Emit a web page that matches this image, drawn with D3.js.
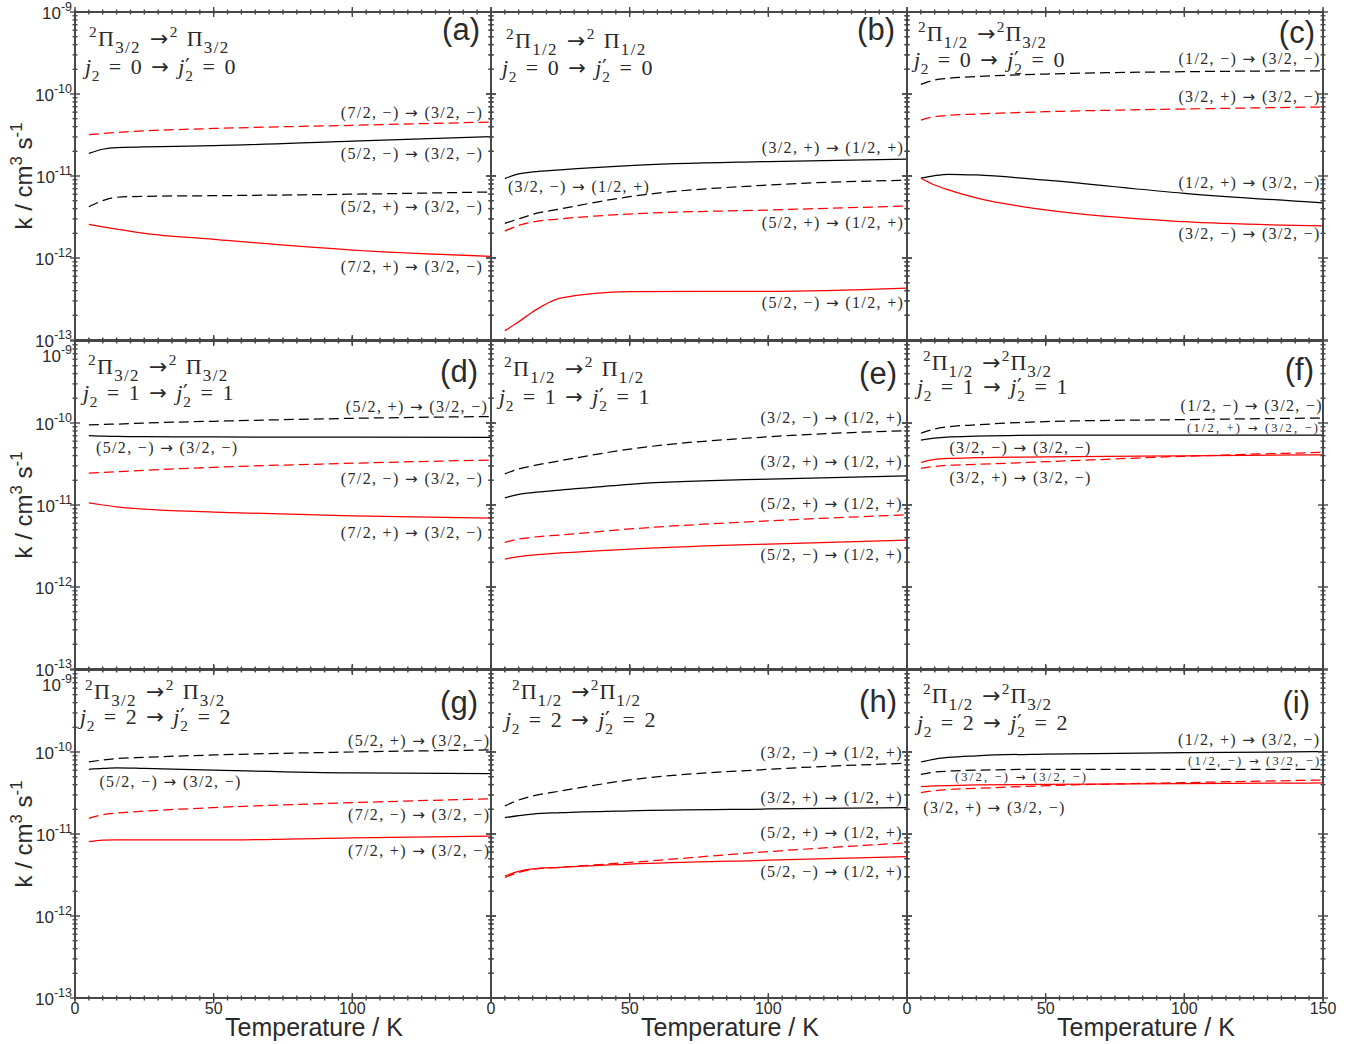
<!DOCTYPE html>
<html>
<head>
<meta charset="utf-8">
<script src="https://cdnjs.cloudflare.com/ajax/libs/d3/7.8.5/d3.min.js"></script>
<style>
  body { margin: 0; background: #fff; }
</style>
</head>
<body>
<div id="chart"></div>
<script>
const temperatures = [5, 10, 15, 25, 50, 100, 150]

const panelLetters = ['a', 'b', 'c', 'd', 'e', 'f', 'g', 'h', 'i']
const panelFrom = ['3/2', '1/2', '1/2', '3/2', '1/2', '1/2', '3/2', '1/2', '1/2']
const panelTo = ['3/2', '1/2', '3/2', '3/2', '1/2', '3/2', '3/2', '1/2', '3/2']
const panelJ = [0, 0, 0, 1, 1, 1, 2, 2, 2]

// rate coefficients, cm^3 s^-1, four transitions per panel
const ratesA = [
  [3.19e-11, 3.3e-11, 3.4e-11, 3.55e-11, 3.8e-11, 4.15e-11, 4.56e-11],
  [1.89e-11, 2.12e-11, 2.22e-11, 2.26e-11, 2.34e-11, 2.67e-11, 3.02e-11],
  [4.22e-12, 5.0e-12, 5.5e-12, 5.65e-12, 5.75e-12, 6.0e-12, 6.38e-12],
  [2.57e-12, 2.4e-12, 2.25e-12, 2.0e-12, 1.69e-12, 1.25e-12, 1.05e-12]
]
const ratesB = [
  [9.3e-12, 1.06e-11, 1.12e-11, 1.19e-11, 1.34e-11, 1.5e-11, 1.61e-11],
  [2.65e-12, 3.0e-12, 3.4e-12, 3.97e-12, 5.6e-12, 7.76e-12, 8.9e-12],
  [2.13e-12, 2.5e-12, 2.75e-12, 3.0e-12, 3.44e-12, 3.85e-12, 4.3e-12],
  [1.3e-13, 1.67e-13, 2.2e-13, 3.25e-13, 3.9e-13, 3.92e-13, 4.3e-13]
]
const ratesC = [
  [1.31e-10, 1.48e-10, 1.55e-10, 1.63e-10, 1.75e-10, 1.87e-10, 1.92e-10],
  [4.8e-11, 5.3e-11, 5.5e-11, 5.7e-11, 6.08e-11, 6.56e-11, 6.94e-11],
  [9.4e-12, 1.01e-11, 1.05e-11, 1.03e-11, 8.9e-12, 6.15e-12, 4.7e-12],
  [9.4e-12, 7.76e-12, 6.76e-12, 5.4e-12, 3.85e-12, 2.77e-12, 2.46e-12]
]
const ratesD = [
  [9.5e-11, 9.6e-11, 9.7e-11, 1.0e-10, 1.05e-10, 1.14e-10, 1.2e-10],
  [7.0e-11, 6.9e-11, 6.87e-11, 6.8e-11, 6.76e-11, 6.72e-11, 6.7e-11],
  [2.45e-11, 2.5e-11, 2.55e-11, 2.65e-11, 2.88e-11, 3.23e-11, 3.54e-11],
  [1.06e-11, 1.0e-11, 9.5e-12, 8.9e-12, 8.2e-12, 7.35e-12, 6.9e-12]
]
const ratesE = [
  [2.4e-11, 2.75e-11, 3.0e-11, 3.47e-11, 4.8e-11, 6.8e-11, 8.05e-11],
  [1.22e-11, 1.35e-11, 1.42e-11, 1.52e-11, 1.79e-11, 2.07e-11, 2.26e-11],
  [3.5e-12, 3.85e-12, 4.05e-12, 4.3e-12, 5.1e-12, 6.4e-12, 7.6e-12],
  [2.19e-12, 2.35e-12, 2.45e-12, 2.6e-12, 2.9e-12, 3.34e-12, 3.74e-12]
]
const ratesF = [
  [7.5e-11, 8.45e-11, 9.0e-11, 9.5e-11, 1.04e-10, 1.1e-10, 1.15e-10],
  [6.2e-11, 6.56e-11, 6.75e-11, 6.9e-11, 7.1e-11, 7.1e-11, 7.1e-11],
  [3.3e-11, 3.6e-11, 3.7e-11, 3.78e-11, 3.86e-11, 3.98e-11, 4.1e-11],
  [2.8e-11, 2.95e-11, 3.05e-11, 3.13e-11, 3.37e-11, 3.93e-11, 4.39e-11]
]
const ratesG = [
  [7.6e-11, 7.98e-11, 8.3e-11, 8.6e-11, 9.2e-11, 1.0e-10, 1.06e-10],
  [6.15e-11, 6.3e-11, 6.4e-11, 6.3e-11, 6.0e-11, 5.55e-11, 5.44e-11],
  [1.55e-11, 1.72e-11, 1.8e-11, 1.9e-11, 2.1e-11, 2.41e-11, 2.69e-11],
  [8.05e-12, 8.4e-12, 8.45e-12, 8.45e-12, 8.45e-12, 9.0e-12, 9.4e-12]
]
const ratesH = [
  [2.2e-11, 2.6e-11, 2.9e-11, 3.34e-11, 4.56e-11, 6.15e-11, 7.3e-11],
  [1.58e-11, 1.67e-11, 1.75e-11, 1.82e-11, 1.92e-11, 2.02e-11, 2.1e-11],
  [2.95e-12, 3.4e-12, 3.7e-12, 3.93e-12, 4.5e-12, 6.1e-12, 7.8e-12],
  [3.07e-12, 3.5e-12, 3.75e-12, 3.93e-12, 4.3e-12, 4.8e-12, 5.3e-12]
]
const ratesI = [
  [7.55e-11, 8.2e-11, 8.6e-11, 9.0e-11, 9.45e-11, 9.8e-11, 1.01e-10],
  [5.35e-11, 5.7e-11, 5.85e-11, 6.0e-11, 6.15e-11, 6.15e-11, 6.15e-11],
  [3.78e-11, 3.85e-11, 3.9e-11, 3.96e-11, 4.04e-11, 4.11e-11, 4.19e-11],
  [3.19e-11, 3.38e-11, 3.5e-11, 3.6e-11, 3.88e-11, 4.23e-11, 4.56e-11]
]
const allRates = [ratesA, ratesB, ratesC, ratesD, ratesE, ratesF, ratesG, ratesH, ratesI]

// transition names, same order as the rates
const transitions = [
  ['(7/2, −) → (3/2, −)', '(5/2, −) → (3/2, −)', '(5/2, +) → (3/2, −)', '(7/2, +) → (3/2, −)'],
  ['(3/2, +) → (1/2, +)', '(3/2, −) → (1/2, +)', '(5/2, +) → (1/2, +)', '(5/2, −) → (1/2, +)'],
  ['(1/2, −) → (3/2, −)', '(3/2, +) → (3/2, −)', '(1/2, +) → (3/2, −)', '(3/2, −) → (3/2, −)'],
  ['(5/2, +) → (3/2, −)', '(5/2, −) → (3/2, −)', '(7/2, −) → (3/2, −)', '(7/2, +) → (3/2, −)'],
  ['(3/2, −) → (1/2, +)', '(3/2, +) → (1/2, +)', '(5/2, +) → (1/2, +)', '(5/2, −) → (1/2, +)'],
  ['(1/2, −) → (3/2, −)', '(1/2, +) → (3/2, −)', '(3/2, −) → (3/2, −)', '(3/2, +) → (3/2, −)'],
  ['(5/2, +) → (3/2, −)', '(5/2, −) → (3/2, −)', '(7/2, −) → (3/2, −)', '(7/2, +) → (3/2, −)'],
  ['(3/2, −) → (1/2, +)', '(3/2, +) → (1/2, +)', '(5/2, +) → (1/2, +)', '(5/2, −) → (1/2, +)'],
  ['(1/2, +) → (3/2, −)', '(1/2, −) → (3/2, −)', '(3/2, −) → (3/2, −)', '(3/2, +) → (3/2, −)']
]

// line style of each series: k = black, r = red, s = solid, d = dashed
const seriesKinds = [
  ['rd', 'ks', 'kd', 'rs'], ['ks', 'kd', 'rd', 'rs'], ['kd', 'rd', 'ks', 'rs'],
  ['kd', 'ks', 'rd', 'rs'], ['kd', 'ks', 'rd', 'rs'], ['kd', 'ks', 'rs', 'rd'],
  ['kd', 'ks', 'rd', 'rs'], ['kd', 'ks', 'rd', 'rs'], ['ks', 'kd', 'rs', 'rd']
]

// where each curve label sits: [T, k, anchor, small]
const labelSpots = [
  [[146.7, 5.06e-11, 'end'], [146.7, 1.6e-11, 'end'], [146.7, 3.64e-12, 'end'], [146.7, 6.76e-13, 'end']],
  [[148.5, 1.89e-11, 'end'], [6.1, 6.32e-12, 'start'], [148.5, 2.34e-12, 'end'], [148.5, 2.44e-13, 'end']],
  [[148.7, 2.32e-10, 'end'], [148.7, 8.05e-11, 'end'], [148.7, 7.08e-12, 'end'], [148.7, 1.69e-12, 'end']],
  [[148.5, 1.37e-10, 'end'], [7.6, 4.31e-11, 'start'], [146.7, 1.8e-11, 'end'], [146.7, 3.93e-12, 'end']],
  [[148, 9.9e-11, 'end'], [148, 2.93e-11, 'end'], [148, 8.93e-12, 'end'], [148, 2.13e-12, 'end']],
  [[149.5, 1.41e-10, 'end'], [148.2, 7.7e-11, 'end', true], [15.3, 4.31e-11, 'start'], [15.3, 1.85e-11, 'start']],
  [[149.3, 1.18e-10, 'end'], [8.8, 3.71e-11, 'start'], [149.3, 1.48e-11, 'end'], [149.3, 5.4e-12, 'end']],
  [[148, 8.53e-11, 'end'], [148, 2.41e-11, 'end'], [148, 9.0e-12, 'end'], [148, 3.02e-12, 'end']],
  [[148.6, 1.22e-10, 'end'], [148.6, 6.94e-11, 'end', true], [17.3, 4.47e-11, 'start', true], [5.9, 1.79e-11, 'start']]
]

// title / letter placement inside each panel: [dx1, dy1, dx2, dy2, letterRight, letterDy, spaced]
const panelLayout = [
  [14, 34, 10, 62, 11, 28, true], [15, 36, 11, 63, 12, 28, true], [11, 29, 7, 55, 8, 31, false],
  [13, 33, 8, 59, 13, 41, true], [13, 35, 8, 63, 10, 43, true], [16, 29, 10, 53, 9, 39, false],
  [10, 29, 5, 54, 13, 43, true], [21, 29, 14, 57, 10, 42, false], [16, 33, 10, 60, 13, 43, false]
]

const xTicks = [0, 50, 100, 150]
const yDecades = [1e-13, 1e-12, 1e-11, 1e-10, 1e-9]

const width = 1357
const height = 1044
const panelW = 416
const panelH = 328
const marginLeft = 75
const marginTop = 12

const axisColour = '#474747'
const textColour = '#2a2a2a'
const serif = '"Liberation Serif", "Times New Roman", serif'
const sans = '"Liberation Sans", Arial, Helvetica, sans-serif'
const arrowFont = '"DejaVu Sans", sans-serif'

const svg = d3.select('#chart')
  .append('svg')
  .attr('width', width)
  .attr('height', height)
  .attr('viewBox', [0, 0, width, height])

// writes a line of text with super/subscripts
// parts: {t, k: 'sup'|'sub', it, dx, f, s}
function mathText(g, x, y, parts, size, family, anchor) {
  const t = g.append('text')
    .attr('x', x)
    .attr('y', y)
    .attr('font-family', family)
    .attr('font-size', size)
    .attr('fill', textColour)
    .attr('text-anchor', anchor || 'start')
  let shift = 0
  parts.forEach(p => {
    const target = p.k === 'sup' ? -0.42 * size : p.k === 'sub' ? 0.3 * size : 0
    const ts = t.append('tspan')
      .attr('dy', target - shift)
      .attr('font-size', p.s || (p.k ? size * 0.7 : size))
      .text(p.t)
    if (p.it) ts.attr('font-style', 'italic')
    if (p.dx) ts.attr('dx', p.dx)
    if (p.f) ts.attr('font-family', p.f)
    shift = target
  })
  return t
}

const minorX = d3.range(0, 151, 5)
const minorY = []
yDecades.slice(0, -1).forEach(d => {
  for (let m = 2; m <= 9; m++) minorY.push(d * m)
})

allRates.forEach((rates, p) => {
  const col = p % 3
  const row = Math.floor(p / 3)
  const x0 = marginLeft + col * panelW
  const y0 = marginTop + row * (panelH + 1)

  const x = d3.scaleLinear().domain([0, 150]).range([x0, x0 + panelW])
  const y = d3.scaleLog().domain([1e-13, 1e-9]).range([y0 + panelH, y0])

  const g = svg.append('g')

  // curves
  const line = d3.line()
    .x(d => x(d[0]))
    .y(d => y(d[1]))
    .curve(d3.curveMonotoneX)

  rates.forEach((vals, s) => {
    const kind = seriesKinds[p][s]
    g.append('path')
      .datum(temperatures.map((t, i) => [t, vals[i]]))
      .attr('d', line)
      .attr('fill', 'none')
      .attr('stroke', kind[0] === 'r' ? '#ff0000' : '#000000')
      .attr('stroke-width', 1.25)
      .attr('stroke-dasharray', kind[1] === 'd' ? '10,5' : null)
  })

  // curve labels
  transitions[p].forEach((txt, s) => {
    const [t, k, anchor, small] = labelSpots[p][s]
    const [lhs, rhs] = txt.split(' → ')
    const size = small ? 12.5 : 16
    mathText(g, x(t), y(k), [
      { t: lhs + ' ' },
      { t: '→', f: arrowFont, s: size * 0.95 },
      { t: ' ' + rhs }
    ], size, serif, anchor)
      .attr('textLength', small ? 131 : 141)
      .attr('lengthAdjust', 'spacing')
  })

  // frame
  g.append('rect')
    .attr('x', x0)
    .attr('y', y0)
    .attr('width', panelW)
    .attr('height', panelH)
    .attr('fill', 'none')
    .attr('stroke', axisColour)
    .attr('stroke-width', 2)

  // ticks crossing the frame on all four sides
  const tick = (vals, len, isX) => {
    vals.forEach(v => {
      if (isX) {
        const px = x(v)
        ;[y0, y0 + panelH].forEach(py => {
          g.append('line').attr('x1', px).attr('x2', px)
            .attr('y1', py - len).attr('y2', py + len)
            .attr('stroke', axisColour).attr('stroke-width', 1.4)
        })
      } else {
        const py = y(v)
        ;[x0, x0 + panelW].forEach(px => {
          g.append('line').attr('y1', py).attr('y2', py)
            .attr('x1', px - len).attr('x2', px + len)
            .attr('stroke', axisColour).attr('stroke-width', 1.4)
        })
      }
    })
  }
  tick(minorX, 2.5, true)
  tick(xTicks, 5, true)
  tick(minorY, 2.5, false)
  tick(yDecades, 5, false)

  // panel titles
  const [dx1, dy1, dx2, dy2, lr, ldy, spaced] = panelLayout[p]
  mathText(g, x0 + dx1, y0 + dy1, [
    { t: '2', k: 'sup' }, { t: 'Π' }, { t: panelFrom[p], k: 'sub', s: 17 },
    { t: ' →', f: arrowFont, s: 22 }, { t: '2', k: 'sup' },
    { t: spaced ? ' Π' : 'Π' }, { t: panelTo[p], k: 'sub', s: 17 }
  ], 22, serif)
    .attr('letter-spacing', spaced ? 1.3 : 1.0)
    .attr('word-spacing', 1)
  mathText(g, x0 + dx2, y0 + dy2, [
    { t: 'j', it: true }, { t: '2', k: 'sub' }, { t: ' = ' + panelJ[p] + ' ' },
    { t: '→', f: arrowFont, s: 21 }, { t: ' ' }, { t: 'j', it: true },
    { t: '′', f: arrowFont, s: 21 }, { t: '2', k: 'sub', dx: -5 },
    { t: ' = ' + panelJ[p] }
  ], 22, serif)
    .attr('letter-spacing', 0.5)
    .attr('word-spacing', 3)

  g.append('text')
    .attr('x', x0 + panelW - lr)
    .attr('y', y0 + ldy)
    .attr('text-anchor', 'end')
    .attr('font-family', sans)
    .attr('font-size', 31)
    .attr('fill', textColour)
    .text('(' + panelLetters[p] + ')')

  // y tick labels on the first column
  if (col === 0) {
    yDecades.forEach(d => {
      const e = Math.round(Math.log10(d))
      const nudge = (row > 0 && e === -9) ? 14 : 0
      mathText(g, x0 - 3, y(d) + 6.5 + nudge, [
        { t: '10' }, { t: String(e), k: 'sup', s: 12.5 }
      ], 17, sans, 'end')
    })
    mathText(g, 0, 0, [
      { t: 'k / cm' }, { t: '3', k: 'sup' }, { t: ' s' }, { t: '-1', k: 'sup' }
    ], 24, sans, 'middle')
      .attr('transform', `translate(32,${y0 + panelH / 2}) rotate(-90)`)
  }

  // x tick labels and axis title on the bottom row
  if (row === 2) {
    const shown = col === 2 ? xTicks : xTicks.slice(0, 3)
    shown.forEach(v => {
      g.append('text')
        .attr('x', x(v))
        .attr('y', y0 + panelH + 16)
        .attr('text-anchor', 'middle')
        .attr('font-family', sans)
        .attr('font-size', 16)
        .attr('fill', textColour)
        .text(v)
    })
    g.append('text')
      .attr('x', x0 + panelW / 2 + 31)
      .attr('y', 1036)
      .attr('text-anchor', 'middle')
      .attr('font-family', sans)
      .attr('font-size', 25)
      .attr('fill', textColour)
      .text('Temperature / K')
  }
})
</script>
</body>
</html>
